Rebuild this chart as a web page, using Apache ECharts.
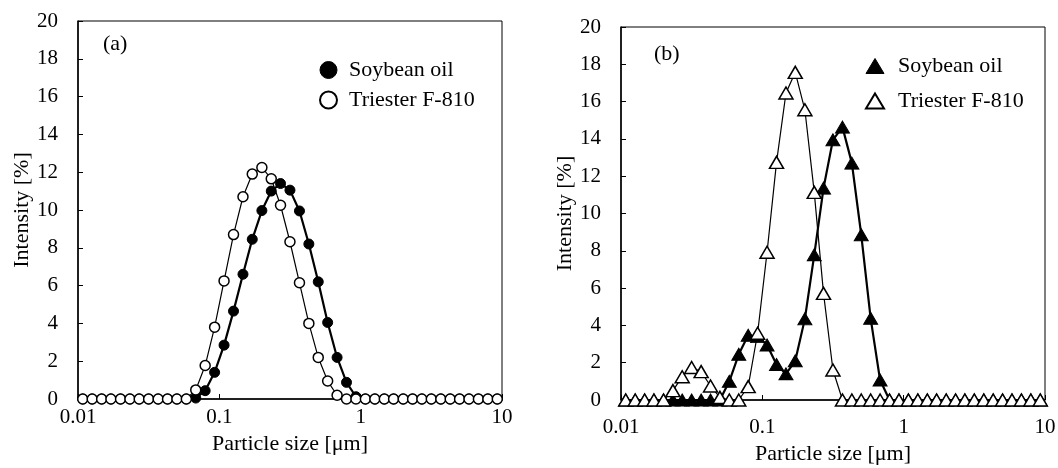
<!DOCTYPE html>
<html lang="en">
<head>
    <meta charset="UTF-8">
    <title>Particle size distribution</title>
    <script src="https://cdn.jsdelivr.net/npm/echarts@6/dist/echarts.min.js"></script>
    <style>
        html, body { margin: 0; padding: 0; background: #fff; }
        #chart { width: 1058px; height: 468px; }
    </style>
</head>
<body>
    <div id="chart"></div>
    <script>
        // size classes (um), same for both panels
        const sizes = [0.0108, 0.0126, 0.0147, 0.0171, 0.0200, 0.0233, 0.0271, 0.0316, 0.0369, 0.0430,
            0.0501, 0.0584, 0.0681, 0.0794, 0.0926, 0.108, 0.126, 0.147, 0.171, 0.200,
            0.233, 0.271, 0.316, 0.369, 0.430, 0.501, 0.584, 0.681, 0.794, 0.926,
            1.08, 1.26, 1.47, 1.71, 2.00, 2.33, 2.71, 3.16, 3.69, 4.30,
            5.01, 5.84, 6.81, 7.94, 9.26];

        // panel (a)
        const soyA = [0, 0, 0, 0, 0, 0, 0, 0, 0, 0, 0, 0,
            0.05, 0.44, 1.41, 2.85, 4.65, 6.6, 8.45, 9.97, 11.0, 11.4, 11.05, 9.95, 8.2, 6.2, 4.05, 2.2, 0.88, 0.12,
            0, 0, 0, 0, 0, 0, 0, 0, 0, 0, 0, 0, 0, 0, 0];
        const triA = [0, 0, 0, 0, 0, 0, 0, 0, 0, 0, 0, 0,
            0.48, 1.77, 3.8, 6.25, 8.7, 10.7, 11.9, 12.25, 11.65, 10.25, 8.32, 6.15, 4.0, 2.2, 0.95, 0.2,
            0, 0, 0, 0, 0, 0, 0, 0, 0, 0, 0, 0, 0, 0, 0, 0, 0];

        // panel (b)
        const soyB = [0, 0, 0, 0, 0, 0, 0, 0, 0, 0, 0,
            1.0, 2.45, 3.47, 3.4, 2.95, 1.9, 1.4, 2.1, 4.35, 7.78, 11.36, 13.95, 14.63, 12.7, 8.86, 4.38, 1.07,
            0, 0, 0, 0, 0, 0, 0, 0, 0, 0, 0, 0, 0, 0, 0, 0, 0];
        const triB = [0, 0, 0, 0, 0,
            0.5, 1.25, 1.74, 1.52, 0.75, 0.14, 0, 0, 0.72, 3.58, 7.92, 12.74, 16.46, 17.57, 15.56, 11.13, 5.72, 1.61,
            0, 0, 0, 0, 0, 0, 0, 0, 0, 0, 0, 0, 0, 0, 0, 0, 0, 0, 0, 0, 0, 0, 0];

        const xTicks = [0.01, 0.1, 1, 10];
        const seriesNames = ['Soybean oil', 'Triester F-810'];

        const FONT = "'Liberation Serif', 'Times New Roman', serif";
        const pairs = (ys) => sizes.map((s, i) => [s, ys[i]]);

        function xAxis(idx, margin, gap) {
            return {
                type: 'log', logBase: 10, gridIndex: idx, min: 0.01, max: 10,
                name: 'Particle size [\u03bcm]', nameLocation: 'middle', nameGap: gap,
                nameTextStyle: { fontFamily: FONT, fontSize: 22, color: '#000' },
                axisLine: { lineStyle: { color: '#000', width: 1.5 } },
                axisTick: { inside: true, length: 5, lineStyle: { color: '#000' } },
                minorTick: { show: false },
                splitLine: { show: false },
                axisLabel: {
                    margin: margin, fontFamily: FONT, fontSize: 21, color: '#000',
                    formatter: v => String(xTicks.find(t => Math.abs(t - v) / t < 1e-6) ?? v)
                }
            };
        }

        function yAxis(idx) {
            return {
                type: 'value', gridIndex: idx, min: 0, max: 20, interval: 2,
                name: 'Intensity [%]', nameLocation: 'middle', nameGap: 45,
                nameTextStyle: { fontFamily: FONT, fontSize: 22, color: '#000' },
                axisLine: { show: true, lineStyle: { color: '#000', width: 1.5 } },
                axisTick: { show: true, inside: true, length: 5, lineStyle: { color: '#000' } },
                splitLine: { show: false },
                axisLabel: { margin: 20, fontFamily: FONT, fontSize: 21, color: '#000' }
            };
        }

        function soySeries(idx, name, symbol, size, data) {
            return {
                name: name, type: 'line', xAxisIndex: idx, yAxisIndex: idx,
                data: pairs(data), symbol: symbol, symbolSize: size, showAllSymbol: true,
                lineStyle: { color: '#000', width: 2.2 },
                itemStyle: { color: '#000', borderColor: '#000', borderWidth: 1 },
                z: 2
            };
        }

        function triSeries(idx, name, symbol, size, data) {
            return {
                name: name, type: 'line', xAxisIndex: idx, yAxisIndex: idx,
                data: pairs(data), symbol: symbol, symbolSize: size, showAllSymbol: true,
                lineStyle: { color: '#000', width: 1.2 },
                itemStyle: { color: '#fff', borderColor: '#000', borderWidth: 1.5 },
                z: 3
            };
        }

        // series of panel (b) get trailing spaces so both legends stay separate
        function legend(left, top, gap, icon, size, pad, suffix) {
            return {
                left: left, top: top, orient: 'vertical', itemGap: gap,
                itemWidth: size[0], itemHeight: size[1], selectedMode: false,
                textStyle: { fontFamily: FONT, fontSize: 22, color: '#000', padding: [0, 0, 0, pad] },
                formatter: n => n.trim(),
                data: [
                    { name: seriesNames[0] + suffix, icon: icon, itemStyle: { color: '#000', borderColor: '#000', borderWidth: 1 } },
                    { name: seriesNames[1] + suffix, icon: icon, itemStyle: { color: '#fff', borderColor: '#000', borderWidth: 2 } }
                ]
            };
        }

        function render() {
            const chart = echarts.init(document.getElementById('chart'));
            chart.setOption({
                animation: false,
                backgroundColor: '#fff',
                textStyle: { fontFamily: FONT },
                title: [
                    { text: '(a)', left: 98, top: 28, textStyle: { fontFamily: FONT, fontSize: 22, fontWeight: 'normal', color: '#000' } },
                    { text: '(b)', left: 649, top: 38, textStyle: { fontFamily: FONT, fontSize: 22, fontWeight: 'normal', color: '#000' } }
                ],
                legend: [
                    legend(314, 54, 8, 'circle', [17, 17], 7, ' '),
                    legend(860, 50, 13, 'triangle', [18, 15], 9, '  ')
                ],
                grid: [
                    { left: 78, top: 21, width: 424, height: 378, show: true, borderColor: '#000', borderWidth: 1, containLabel: false, outerBoundsMode: 'none' },
                    { left: 621, top: 27, width: 424, height: 373, show: true, borderColor: '#000', borderWidth: 1, containLabel: false, outerBoundsMode: 'none' }
                ],
                xAxis: [xAxis(0, 8, 24), xAxis(1, 17, 31)],
                yAxis: [yAxis(0), yAxis(1)],
                series: [
                    soySeries(0, seriesNames[0] + ' ', 'circle', 10, soyA),
                    triSeries(0, seriesNames[1] + ' ', 'circle', 10, triA),
                    soySeries(1, seriesNames[0] + '  ', 'triangle', [14, 12], soyB),
                    triSeries(1, seriesNames[1] + '  ', 'triangle', [14, 12], triB)
                ]
            });
        }

        if (document.fonts && document.fonts.load) {
            document.fonts.load("22px 'Liberation Serif'").then(render, render);
        } else {
            render();
        }
    </script>
</body>
</html>
